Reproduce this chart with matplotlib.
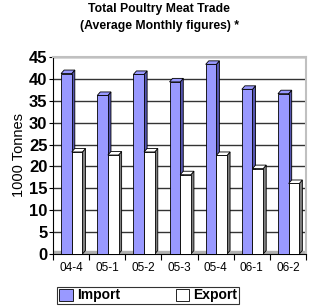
import matplotlib.pyplot as plt
import numpy as np

# data
quarters = ['04-4', '05-1', '05-2', '05-3', '05-4', '06-1', '06-2']
imports = [41.2, 36.2, 41.0, 39.3, 43.3, 37.6, 36.6]
exports = [23.3, 22.6, 23.3, 18.1, 22.5, 19.5, 16.1]

plt.rcParams['font.family'] = ['Liberation Sans', 'DejaVu Sans']

fig = plt.figure(figsize=(3.12, 3.07), dpi=100)
ax = fig.add_axes([0.170, 0.1726, 0.811, 0.642])

x = np.arange(len(quarters))
w = 0.295
dx, dy = 0.085, 0.8  # fake depth for the 3D look


def draw_bars(pos, vals, face, side, label):
    ax.bar(pos, vals, width=w, color=face, edgecolor='black', linewidth=0.6,
           label=label, zorder=3)
    for p, v in zip(pos, vals):
        r = p + w / 2
        l = p - w / 2
        # right side face
        ax.fill([r, r + dx, r + dx, r], [0, dy, v + dy, v], color=side,
                ec='black', lw=0.6, zorder=2)
        # top face
        ax.fill([l, l + dx, r + dx, r], [v, v + dy, v + dy, v], color=face,
                ec='black', lw=0.6, zorder=3)


draw_bars(x - 0.13, imports, '#9999FF', '#5555B0', 'Import')
draw_bars(x + 0.165, exports, 'white', '#808080', 'Export')

ax.set_xlim(-0.5, 6.5)
ax.set_ylim(0, 45)
ax.set_yticks(np.arange(0, 46, 5))
ax.set_yticklabels([str(v) for v in range(0, 46, 5)], fontsize=12, fontweight='bold')
ax.tick_params(axis='y', direction='out', length=3, pad=1)

# ticks between categories, labels in the middle
ax.set_xticks(np.arange(-0.5, 7, 1))
ax.set_xticklabels([])
ax.set_xticks(x, minor=True)
ax.set_xticklabels(quarters, minor=True, fontsize=8.5)
ax.tick_params(axis='x', which='major', direction='out', length=4)
ax.tick_params(axis='x', which='minor', length=0, pad=6)

ax.yaxis.grid(True, color='#333333', linewidth=1.0, zorder=0)
ax.set_axisbelow(True)
ax.axhspan(0, 0.6, color='#b0b0b0', zorder=1)

ax.spines['top'].set_color('#c0c0c0')
ax.spines['right'].set_color('#c0c0c0')
ax.spines['top'].set_linewidth(1.5)
ax.spines['right'].set_linewidth(1.5)

ax.set_ylabel('1000 Tonnes', fontsize=10.5, labelpad=2)

fig.text(0.51, 0.971, 'Total Poultry Meat Trade', ha='center', va='center',
         fontsize=8.8, fontweight='bold')
fig.text(0.51, 0.915, '(Average Monthly figures) *', ha='center', va='center',
         fontsize=8.8, fontweight='bold')

leg = fig.legend(loc='center', bbox_to_anchor=(0.475, 0.0375), ncol=2,
                 frameon=True, fancybox=False, edgecolor='black',
                 prop={'weight': 'bold', 'size': 10}, handlelength=1.0,
                 handleheight=1.0, columnspacing=4.0, handletextpad=0.3,
                 borderpad=0.1)
leg.get_frame().set_linewidth(0.8)

plt.savefig('out.png', dpi=100)
